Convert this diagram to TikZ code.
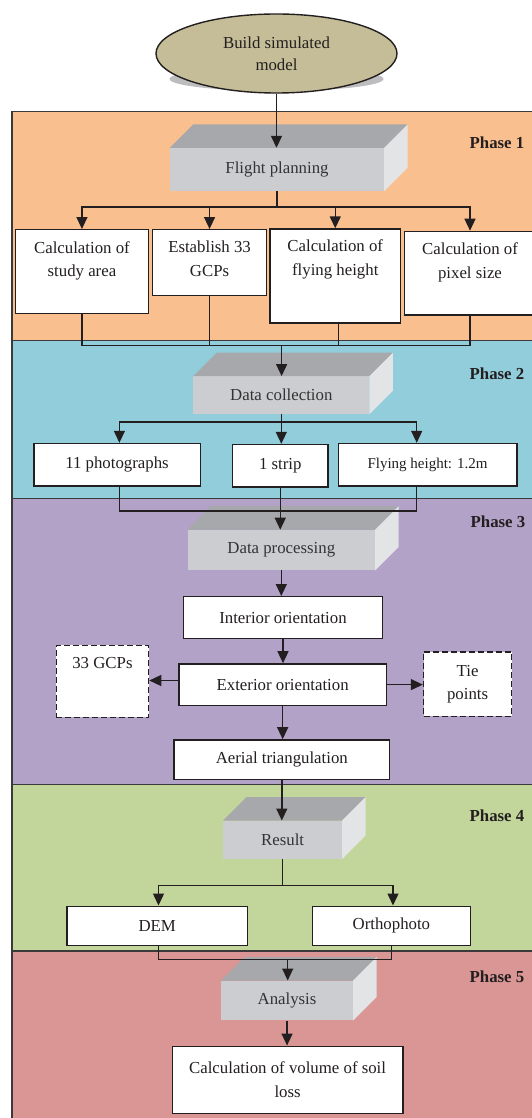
\documentclass[tikz,border=0pt]{standalone}
\usepackage{fontspec}
\setmainfont{Liberation Serif}
\usetikzlibrary{arrows.meta,calc,shapes.geometric}
\definecolor{pone}{HTML}{FABF8F}
\definecolor{ptwo}{HTML}{92CDDC}
\definecolor{pthree}{HTML}{B2A2C7}
\definecolor{pfour}{HTML}{C2D69B}
\definecolor{pfive}{HTML}{D99694}
\definecolor{tanfill}{HTML}{C4BD97}
\definecolor{shadowc}{HTML}{BDBDBF}
\definecolor{ink}{HTML}{231F20}
\definecolor{cubeink}{HTML}{333333}
\definecolor{paneline}{HTML}{3A3A3A}
\definecolor{cubefront}{HTML}{CCCDD0}
\definecolor{cubetop}{HTML}{A7A8AB}
\definecolor{cuberight}{HTML}{E3E4E6}
\newcommand\myfs{\fontsize{16.8}{23.7}\selectfont}
\newcommand\myfse{\fontsize{16.8}{21.6}\selectfont}
\newcommand\drawcube[1]{%
  \fill[cubetop] (#1.north west) -- ++(23.5,-23.5) -- ($(#1.north east)+(23.5,-23.5)$) -- (#1.north east) -- cycle;
  \fill[cuberight] (#1.north east) -- ++(23.5,-23.5) -- ($(#1.south east)+(23.5,-23.5)$) -- (#1.south east) -- cycle;}
\begin{document}
\begin{tikzpicture}[x=1pt,y=-1pt,
  box/.style={draw=ink, line width=1.4pt, fill=white, inner sep=0pt, font=\myfs, text=ink, align=center},
  dbox/.style={box, dash pattern=on 6pt off 3pt},
  lbl/.style={anchor=north, inner sep=0pt, font=\myfs, text=ink, align=center},
  cubef/.style={fill=cubefront, inner sep=0pt, font=\myfs, text=cubeink},
  arr/.style={draw=ink, line width=1.4pt, -{Triangle[length=12pt,width=11pt]}},
  ln/.style={draw=ink, line width=1.4pt},
  phase/.style={font=\myfs\bfseries, text=ink, anchor=east, inner sep=0pt},
  panel/.style={draw=paneline, line width=1.4pt}]
\useasboundingbox (0,0) rectangle (532,1118);
% panels
\filldraw[panel, fill=pone] (11.9,111.7) rectangle (545,340.3);
\filldraw[panel, fill=ptwo] (11.9,340.3) rectangle (545,498.5);
\filldraw[panel, fill=pthree] (11.9,498.5) rectangle (545,784.4);
\filldraw[panel, fill=pfour] (11.9,784.4) rectangle (545,951);
\filldraw[panel, fill=pfive] (11.9,951) rectangle (545,1130);
% phase labels
\node[phase] (ph1) at (524.5,142.7) {Phase 1};
\node[phase] (ph2) at (524.5,373.9) {Phase 2};
\node[phase] (ph3) at (525.5,522) {Phase 3};
\node[phase] (ph4) at (524.5,815.6) {Phase 4};
\node[phase] (ph5) at (524.5,976.6) {Phase 5};
% start ellipse
\fill[shadowc] (276.5,79) ellipse [x radius=107pt, y radius=12pt];
\node[ellipse, draw=ink, line width=1.4pt, fill=tanfill, minimum width=241pt, minimum height=79pt, inner sep=0pt, font=\myfse, text=ink, align=center] (BM) at (276.5,53.5) {Build simulated\\model};
% cubes
\node[cubef, minimum width=214pt, minimum height=43pt] (FP) at (277,169.5) {Flight planning};
\drawcube{FP}
\node[cubef, minimum width=175.8pt, minimum height=37.7pt] (DC) at (281.3,395.15) {Data collection};
\drawcube{DC}
\node[cubef, minimum width=187.4pt, minimum height=40.3pt] (DP) at (281.3,550.05) {Data processing};
\drawcube{DP}
\node[cubef, minimum width=118.7pt, minimum height=38pt] (RS) at (282.65,839.7) {Result};
\drawcube{RS}
\node[cubef, minimum width=131.7pt, minimum height=39.7pt] (AN) at (287.05,1000.55) {Analysis};
\drawcube{AN}
% phase 1 boxes
\node[box, minimum width=133.3pt, minimum height=83.5pt, label={[lbl, yshift=-12pt]north:{Calculation of\\study area}}] (A) at (81.95,271.45) {};
\node[box, minimum width=113.7pt, minimum height=65.8pt, label={[lbl, yshift=-12pt]north:{Establish 33\\GCPs}}] (B) at (209.55,262.6) {};
\node[box, minimum width=130.9pt, minimum height=94pt, label={[lbl, yshift=-11pt]north:{Calculation of\\flying height}}] (C) at (335.25,276) {};
\node[box, minimum width=131pt, minimum height=83.5pt, label={[lbl, yshift=-12pt]north:{Calculation of\\pixel size}}] (D) at (470,273.15) {};
% phase 2 boxes
\node[box, minimum width=166.3pt, minimum height=42.4pt] (P11) at (117.05,464.7) {11 photographs};
\node[box, minimum width=95.7pt, minimum height=42.4pt] (S1) at (280.25,465.7) {1 strip};
\node[box, minimum width=178.5pt, minimum height=42.4pt, font=\fontsize{15}{18}\selectfont] (FH) at (427.55,464.7) {Flying height: 1.2m};
% phase 3 boxes
\node[box, minimum width=198.8pt, minimum height=41.7pt] (IO) at (283,617.55) {Interior orientation};
\node[box, minimum width=207.7pt, minimum height=41.4pt] (EO) at (282.65,684.6) {Exterior orientation};
\node[dbox, minimum width=92.3pt, minimum height=72pt, label={[lbl, yshift=-12.6pt]north:{33 GCPs}}] (G33) at (102.45,681.2) {};
\node[dbox, minimum width=88.2pt, minimum height=64.2pt] (TP) at (467.6,684.1) {Tie\\points};
\node[box, minimum width=215.4pt, minimum height=39.4pt] (AT) at (281.8,759.6) {Aerial triangulation};
% phase 4 boxes
\node[box, minimum width=180.9pt, minimum height=39.1pt] (DEM) at (157.25,925.75) {DEM};
\node[box, minimum width=158.4pt, minimum height=39.1pt] (OR) at (391.4,925.75) {Orthophoto};
% phase 5 box
\node[box, minimum width=230.4pt, minimum height=67.5pt] (CV) at (287.6,1079.95) {Calculation of volume of soil\\loss};
% connectors
\draw[arr] (BM.south) -- (BM.south |- FP.north);
\coordinate (j1) at (277,207);
\foreach \t in {A,B,C,D} {\draw[arr] (FP.south) -- (FP.south |- j1) -| (\t.north);}
\coordinate (k1) at (281.6,345.5);
\draw[ln] (A.south) |- (D.south |- k1) -- (D.south);
\draw[ln] (B.south) -- (B.south |- k1);
\draw[ln] ([xshift=3.3pt]C.south) -- ([xshift=3.3pt]C.south |- k1);
\draw[arr] (k1) -- (k1 |- DC.north);
\coordinate (j2) at (280,422.1);
\draw[arr] (DC.south) -- (DC.south |- j2) -| ([xshift=2.35pt]P11.north);
\draw[arr] (DC.south) -- (DC.south |- S1.north);
\draw[arr] (DC.south) -- (DC.south |- j2) -| ([xshift=-10.85pt]FH.north);
\coordinate (k2) at (0,511);
\draw[ln] ([xshift=2.35pt]P11.south) |- ([xshift=-10.85pt]FH.south |- k2) -- ([xshift=-10.85pt]FH.south);
\draw[arr] (S1.south) -- (S1.south |- DP.north);
\draw[arr] (DP.south) -- (DP.south |- IO.north);
\draw[arr] (IO.south) -- (IO.south |- EO.north);
\draw[arr] ([yshift=4.1pt]EO.west) -- ([yshift=4.1pt]EO.west -| G33.east);
\draw[arr] (EO.east) -- (EO.east -| TP.west);
\draw[arr] (EO.south) -- (EO.south |- AT.north);
\draw[arr] (AT.south) -- (AT.south |- RS.north);
\coordinate (j4) at (0,885.2);
\draw[arr] (RS.south) -- (RS.south |- j4) -| ([xshift=1.25pt]DEM.north);
\draw[arr] (RS.south) -- (RS.south |- j4) -| ([xshift=1.6pt]OR.north);
\coordinate (k4) at (287.7,959.5);
\draw[ln] ([xshift=1.25pt]DEM.south) |- (OR.south |- k4) -- (OR.south);
\draw[arr] (k4) -- (k4 |- AN.north);
\draw[arr] (AN.south) -- (AN.south |- CV.north);
\end{tikzpicture}
\end{document}
